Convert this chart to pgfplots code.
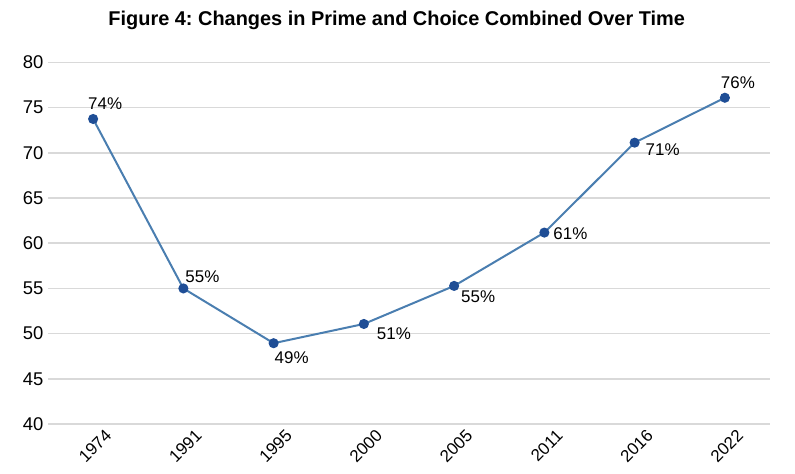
\documentclass[border=0pt]{standalone}
\usepackage{pgfplots}
\pgfplotsset{compat=1.18}
\usepackage{fontspec}
\setmainfont{Liberation Sans}
\definecolor{linec}{HTML}{4A7EB0}
\definecolor{markc}{HTML}{1F4E96}
\definecolor{gridc}{HTML}{D9D9D9}
\begin{document}
\frenchspacing
\begin{tikzpicture}
\useasboundingbox (-48bp,-50bp) rectangle (747bp,424bp);
\begin{axis}[
  at={(0,0)}, anchor=south west,
  scale only axis, width=722bp, height=361.5bp,
  xmin=-0.5, xmax=7.5, ymin=40, ymax=80,
  xtick={0,...,7},
  xticklabels={1974,1991,1995,2000,2005,2011,2016,2022},
  ytick={40,45,...,80},
  /pgf/number format/assume math mode=true,
  axis line style={draw=none},
  major tick length=0pt,
  ymajorgrids, grid style={gridc, line width=1.5bp},
  yticklabel style={font=\fontsize{18.5}{20}\selectfont, xshift=-1bp},
  xticklabel style={font=\fontsize{17}{19}\selectfont, rotate=45, anchor=east, xshift=8bp, yshift=-17bp},
  title={\fontsize{20}{24}\selectfont\bfseries Figure 4: Changes in Prime and Choice Combined Over Time},
  title style={at={(0.483,1)}, anchor=base, yshift=30.8bp, inner sep=0pt},
  clip=false,
]
\addplot[linec, line width=2bp, mark=*, mark size=4bp, mark options={fill=markc, draw=markc}]
coordinates {(0,73.75) (1,55.0) (2,48.94) (3,51.07) (4,55.28) (5,61.18) (6,71.13) (7,76.1)};
\begin{scope}[every node/.style={font=\fontsize{17}{18}\selectfont, inner sep=0pt}]
\node at (axis cs:0,73.75) [xshift=12bp, yshift=15bp] {74\%};
\node at (axis cs:1,55.0) [xshift=19bp, yshift=12bp] {55\%};
\node at (axis cs:2,48.94) [xshift=18bp, yshift=-14bp] {49\%};
\node at (axis cs:3,51.07) [xshift=30bp, yshift=-10bp] {51\%};
\node at (axis cs:4,55.28) [xshift=24bp, yshift=-11bp] {55\%};
\node at (axis cs:5,61.18) [xshift=26bp, yshift=-1bp] {61\%};
\node at (axis cs:6,71.13) [xshift=28bp, yshift=-7bp] {71\%};
\node at (axis cs:7,76.1) [xshift=13bp, yshift=15bp] {76\%};
\end{scope}
\end{axis}
\end{tikzpicture}
\end{document}
